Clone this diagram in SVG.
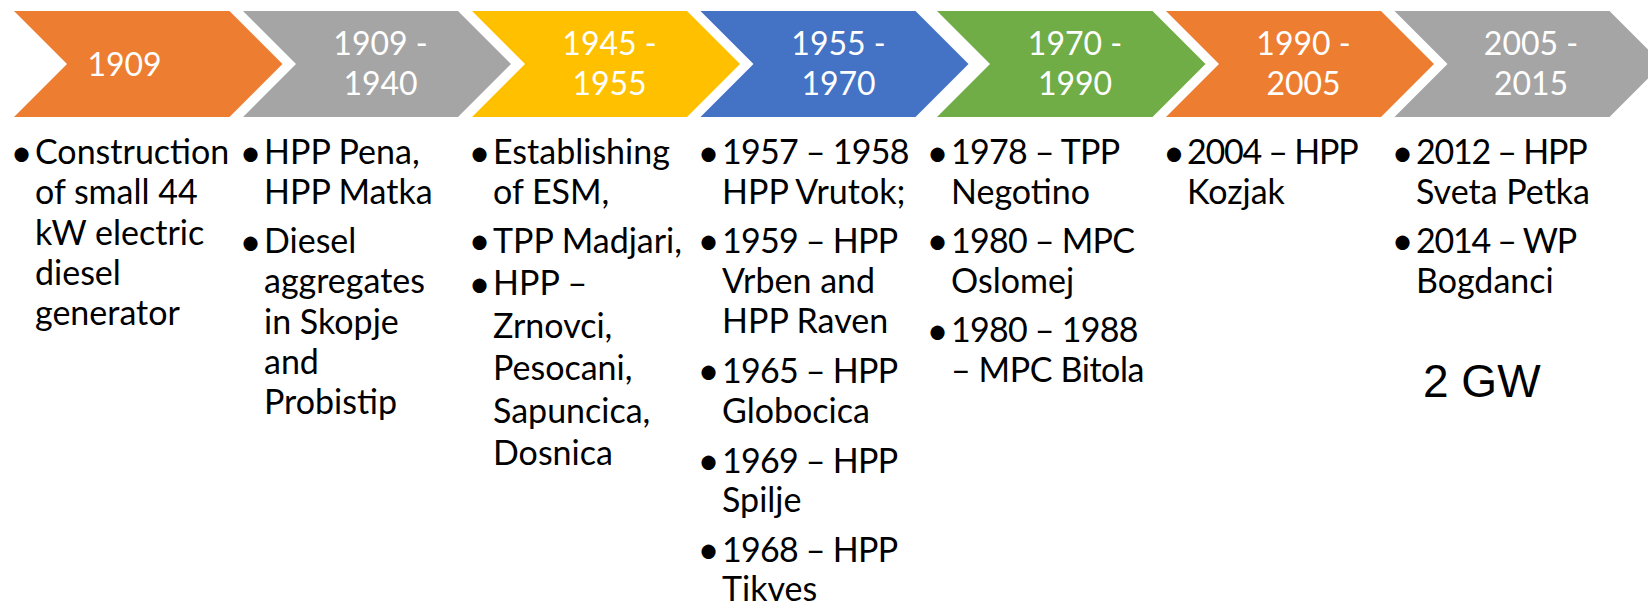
<svg xmlns="http://www.w3.org/2000/svg" width="1648" height="604" viewBox="0 0 1648 604">
<style>
.hd{font-family:Lato,"Open Sans","Liberation Sans",sans-serif;font-size:32px;fill:#fff;text-anchor:middle}
.tx{font-family:Lato,"Open Sans","Liberation Sans",sans-serif;font-size:34px;fill:#000}
.bl{font-family:Lato,"Open Sans","Liberation Sans",sans-serif;font-size:38px;fill:#000}
.d1{letter-spacing:-0.75px}
.d2{letter-spacing:-1.25px}
.d3{letter-spacing:-0.4px}
.gw{font-family:"Liberation Sans",Arial,sans-serif;font-size:46px;fill:#000}
.orange{fill:#ED7D31}.gray{fill:#A5A5A5}.yellow{fill:#FFC000}.blue{fill:#4472C4}.green{fill:#70AD47}
</style>
<rect width="1648" height="604" fill="#fff"/>
<g id="connectors"/>
<g id="stage1">
<path class="orange" d="M14,11H229.5L282.5,64L229.5,117H14L67,64Z"/>
<text class="hd" x="124.5" y="75.5">1909</text>
<text class="bl" x="10.5" y="165.5">•</text>
<text class="tx" x="35"><tspan x="35" y="164">Construction</tspan><tspan x="35" y="204.3">of small 44</tspan><tspan x="35" y="244.6">kW electric</tspan><tspan x="35" y="285">diesel</tspan><tspan x="35" y="325.3">generator</tspan></text>
</g>
<g id="stage2">
<path class="gray" d="M243,11H458L511,64L458,117H243L296,64Z"/>
<text class="hd"><tspan x="380.5" y="55">1909 -</tspan><tspan x="380.5" y="95">1940</tspan></text>
<text class="bl" x="239.5" y="165.5">•</text>
<text class="bl" x="239.5" y="254.5">•</text>
<text class="tx"><tspan x="264" y="164">HPP Pena,</tspan><tspan x="264" y="204.3">HPP Matka</tspan><tspan x="264" y="253">Diesel</tspan><tspan x="264" y="293.3">aggregates</tspan><tspan x="264" y="333.6">in Skopje</tspan><tspan x="264" y="374">and</tspan><tspan x="264" y="414.3">Probistip</tspan></text>
</g>
<g id="stage3">
<path class="yellow" d="M472,11H687L740,64L687,117H472L525,64Z"/>
<text class="hd"><tspan x="609.5" y="55">1945 -</tspan><tspan x="609.5" y="95">1955</tspan></text>
<text class="bl" x="468.5" y="165.5">•</text>
<text class="bl" x="468.5" y="254">•</text>
<text class="bl" x="468.5" y="296.5">•</text>
<text class="tx"><tspan x="493" y="164">Establishing</tspan><tspan x="493" y="204.3">of ESM,</tspan><tspan x="493" y="252.5">TPP Madjari,</tspan><tspan x="493" y="295">HPP –</tspan><tspan x="493" y="337.5">Zrnovci,</tspan><tspan x="493" y="380">Pesocani,</tspan><tspan x="493" y="422.5">Sapuncica,</tspan><tspan x="493" y="465">Dosnica</tspan></text>
</g>
<g id="stage4">
<path class="blue" d="M700.5,11H915.5L968.5,64L915.5,117H700.5L753.5,64Z"/>
<text class="hd"><tspan x="838.5" y="55">1955 -</tspan><tspan x="838.5" y="95">1970</tspan></text>
<text class="bl" x="697.5" y="165.5">•</text>
<text class="bl" x="697.5" y="254">•</text>
<text class="bl" x="697.5" y="384">•</text>
<text class="bl" x="697.5" y="474">•</text>
<text class="bl" x="697.5" y="563">•</text>
<text class="tx"><tspan class="d1" x="722" y="164">1957 – 1958</tspan><tspan x="722" y="204.3">HPP Vrutok;</tspan><tspan class="d1" x="722" y="252.5">1959 – HPP</tspan><tspan x="722" y="293">Vrben and</tspan><tspan x="722" y="333.3">HPP Raven</tspan><tspan class="d1" x="722" y="382.5">1965 – HPP</tspan><tspan x="722" y="423">Globocica</tspan><tspan class="d1" x="722" y="472.5">1969 – HPP</tspan><tspan x="722" y="512">Spilje</tspan><tspan class="d1" x="722" y="561.5">1968 – HPP</tspan><tspan x="722" y="601">Tikves</tspan></text>
</g>
<g id="stage5">
<path class="green" d="M937,11H1152.5L1205.5,64L1152.5,117H937L990,64Z"/>
<text class="hd"><tspan x="1075" y="55">1970 -</tspan><tspan x="1075" y="95">1990</tspan></text>
<text class="bl" x="926.5" y="165.5">•</text>
<text class="bl" x="926.5" y="254">•</text>
<text class="bl" x="926.5" y="343.5">•</text>
<text class="tx"><tspan class="d1" x="951" y="164">1978 – TPP</tspan><tspan x="951" y="204.3">Negotino</tspan><tspan class="d1" x="951" y="252.5">1980 – MPC</tspan><tspan x="951" y="293">Oslomej</tspan><tspan class="d1" x="951" y="342">1980 – 1988</tspan><tspan class="d3" x="951" y="382.3">– MPC Bitola</tspan></text>
</g>
<g id="stage6">
<path class="orange" d="M1166,11H1381L1434,64L1381,117H1166L1219,64Z"/>
<text class="hd"><tspan x="1303.5" y="55">1990 -</tspan><tspan x="1303.5" y="95">2005</tspan></text>
<text class="bl" x="1163" y="165.5">•</text>
<text class="tx"><tspan class="d2" x="1187" y="164">2004 – HPP</tspan><tspan x="1187" y="204.3">Kozjak</tspan></text>
</g>
<g id="stage7">
<path class="gray" d="M1394.5,11H1609.5L1662.5,64L1609.5,117H1394.5L1447.5,64Z"/>
<text class="hd"><tspan x="1531" y="55">2005 -</tspan><tspan x="1531" y="95">2015</tspan></text>
<text class="bl" x="1391.5" y="165.5">•</text>
<text class="bl" x="1391.5" y="254">•</text>
<text class="tx"><tspan class="d2" x="1416" y="164">2012 – HPP</tspan><tspan x="1416" y="204.3">Sveta Petka</tspan><tspan class="d2" x="1416" y="252.5">2014 – WP</tspan><tspan x="1416" y="293">Bogdanci</tspan></text>
<text class="gw" x="1423" y="397">2 GW</text>
</g>
</svg>
